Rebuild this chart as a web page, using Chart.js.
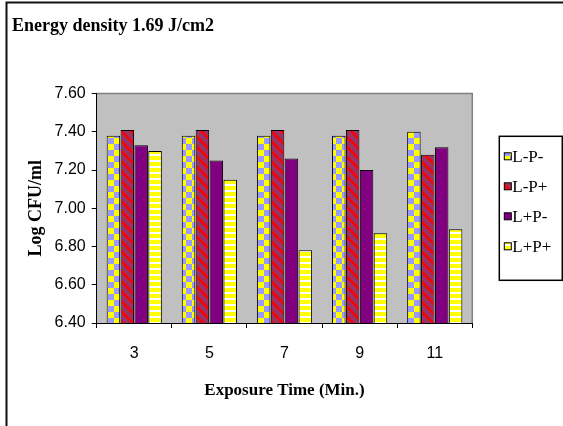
<!DOCTYPE html>
<html>
<head>
<meta charset="utf-8">
<title>Energy density 1.69 J/cm2</title>
<script src="https://cdn.jsdelivr.net/npm/chart.js@4.4.1/dist/chart.umd.min.js"></script>
<style>
  html, body { margin: 0; padding: 0; background: #fff; }
  canvas { display: block; }
</style>
</head>
<body>
<canvas id="barChart" width="563" height="426"></canvas>
<script>
// exposure time groups and the four treatment series (log CFU/ml)
var exposureTimes = ["3", "5", "7", "9", "11"];
var seriesNames = ["L-P-", "L-P+", "L+P-", "L+P+"];
var lMinusPMinus = [7.38, 7.38, 7.38, 7.38, 7.40];
var lMinusPPlus = [7.41, 7.41, 7.41, 7.41, 7.28];
var lPlusPMinus = [7.33, 7.25, 7.26, 7.20, 7.32];
var lPlusPPlus = [7.30, 7.15, 6.78, 6.87, 6.89];
var yTicks = [6.40, 6.60, 6.80, 7.00, 7.20, 7.40, 7.60];

var serif = "'Liberation Serif', 'Times New Roman', serif";
var sans = "'Liberation Sans', Arial, sans-serif";

// small tiles used as repeating bar fills
function makePattern(w, h, paint) {
    var c = document.createElement('canvas');
    c.width = w;
    c.height = h;
    var g = c.getContext('2d');
    paint(g, w, h);
    return g.createPattern(c, 'repeat');
}

var checkerFill = makePattern(12, 12, function (g, w, h) {
    g.fillStyle = '#9999ff';
    g.fillRect(0, 0, w, h);
    g.fillStyle = '#ffff00';
    g.fillRect(0, 0, 6, 6);
    g.fillRect(6, 6, 6, 6);
});

var diagonalFill = makePattern(10, 10, function (g, w, h) {
    g.fillStyle = '#993366';
    g.fillRect(0, 0, w, h);
    g.strokeStyle = '#ff0000';
    g.lineWidth = 2.5;
    g.beginPath();
    g.moveTo(-2, -2); g.lineTo(w + 2, h + 2);
    g.moveTo(-2, h - 2); g.lineTo(2, h + 2);
    g.moveTo(w - 2, -2); g.lineTo(w + 2, 2);
    g.stroke();
});

var stripeFill = makePattern(6, 6, function (g, w, h) {
    g.fillStyle = '#ffffff';
    g.fillRect(0, 0, w, h);
    g.fillStyle = '#ffff00';
    g.fillRect(0, 0, w, 4);
});

var seriesValues = [lMinusPMinus, lMinusPPlus, lPlusPMinus, lPlusPPlus];
var seriesFills = [checkerFill, diagonalFill, '#800080', stripeFill];

var datasets = seriesNames.map(function (name, i) {
    return {
        label: name,
        data: seriesValues[i],
        backgroundColor: seriesFills[i],
        borderColor: '#000000',
        borderWidth: 1,
        barPercentage: 0.97,
        categoryPercentage: 0.74
    };
});

// white page, outer frame and the grey plot area
var frameAndPlotArea = {
    id: 'frameAndPlotArea',
    beforeDraw: function (chart) {
        var ctx = chart.ctx;
        var a = chart.chartArea;
        ctx.save();
        ctx.fillStyle = '#ffffff';
        ctx.fillRect(0, 0, chart.width, chart.height);
        ctx.strokeStyle = '#111111';
        ctx.lineWidth = 2;
        ctx.strokeRect(6.5, 2.5, chart.width + 10, chart.height + 10);
        ctx.fillStyle = '#c0c0c0';
        ctx.fillRect(a.left, a.top, a.right - a.left, a.bottom - a.top);
        ctx.strokeStyle = '#808080';
        ctx.lineWidth = 1.5;
        ctx.beginPath();
        ctx.moveTo(a.left, a.top);
        ctx.lineTo(a.right, a.top);
        ctx.lineTo(a.right, a.bottom);
        ctx.stroke();
        ctx.restore();
    }
};

// boxed legend to the right of the plot
var boxedLegend = {
    id: 'boxedLegend',
    afterDraw: function (chart) {
        var ctx = chart.ctx;
        var a = chart.chartArea;
        var left = a.right + 27;
        var midY = (a.top + a.bottom) / 2;
        var top = midY - 72;
        ctx.save();
        ctx.strokeStyle = '#000000';
        ctx.lineWidth = 1.5;
        ctx.strokeRect(left, top, 63, 144);
        ctx.font = '17px ' + serif;
        ctx.textBaseline = 'middle';
        ctx.fillStyle = '#000000';
        chart.data.datasets.forEach(function (ds, i) {
            var cy = top + 20 + i * 30;
            ctx.fillStyle = ds.backgroundColor;
            ctx.fillRect(left + 5, cy - 3.5, 7, 7);
            ctx.lineWidth = 1;
            ctx.strokeRect(left + 5, cy - 3.5, 7, 7);
            ctx.fillStyle = '#000000';
            ctx.fillText(ds.label, left + 13, cy + 1);
        });
        ctx.restore();
    }
};

var ctxB = document.getElementById('barChart').getContext('2d');
var barChart = new Chart(ctxB, {
    type: 'bar',
    data: {
        labels: exposureTimes,
        datasets: datasets
    },
    options: {
        responsive: false,
        animation: false,
        layout: {
            padding: { left: 12, right: 90.7, top: 0, bottom: 0 }
        },
        plugins: {
            legend: { display: false },
            tooltip: { enabled: false },
            title: {
                display: true,
                text: 'Energy density 1.69 J/cm2',
                align: 'start',
                color: '#000000',
                font: { family: serif, size: 18, weight: 'bold' },
                padding: { top: 16, bottom: 56 }
            }
        },
        scales: {
            x: {
                grid: {
                    offset: true,
                    drawOnChartArea: false,
                    color: '#000000',
                    tickLength: 5
                },
                border: { color: '#000000', width: 1 },
                ticks: {
                    color: '#000000',
                    font: { family: sans, size: 16 },
                    padding: 16
                },
                title: {
                    display: true,
                    text: 'Exposure Time (Min.)',
                    color: '#000000',
                    font: { family: serif, size: 17, weight: 'bold' },
                    padding: { top: 0, bottom: 25 }
                },
                afterFit: function (scale) { scale.height = 103; }
            },
            y: {
                min: yTicks[0],
                max: yTicks[yTicks.length - 1],
                afterBuildTicks: function (axis) {
                    axis.ticks = yTicks.map(function (v) { return { value: v }; });
                },
                grid: {
                    drawOnChartArea: false,
                    color: '#000000',
                    tickLength: 5
                },
                border: { color: '#000000', width: 1 },
                ticks: {
                    color: '#000000',
                    font: { family: sans, size: 16 },
                    padding: 6,
                    callback: function (v) { return Number(v).toFixed(2); }
                },
                title: {
                    display: true,
                    text: 'Log CFU/ml',
                    color: '#000000',
                    font: { family: serif, size: 18, weight: 'bold' },
                    padding: { top: 14, bottom: 0 }
                },
                afterFit: function (scale) { scale.width = 84.7; }
            }
        }
    },
    plugins: [frameAndPlotArea, boxedLegend]
});
</script>
</body>
</html>
